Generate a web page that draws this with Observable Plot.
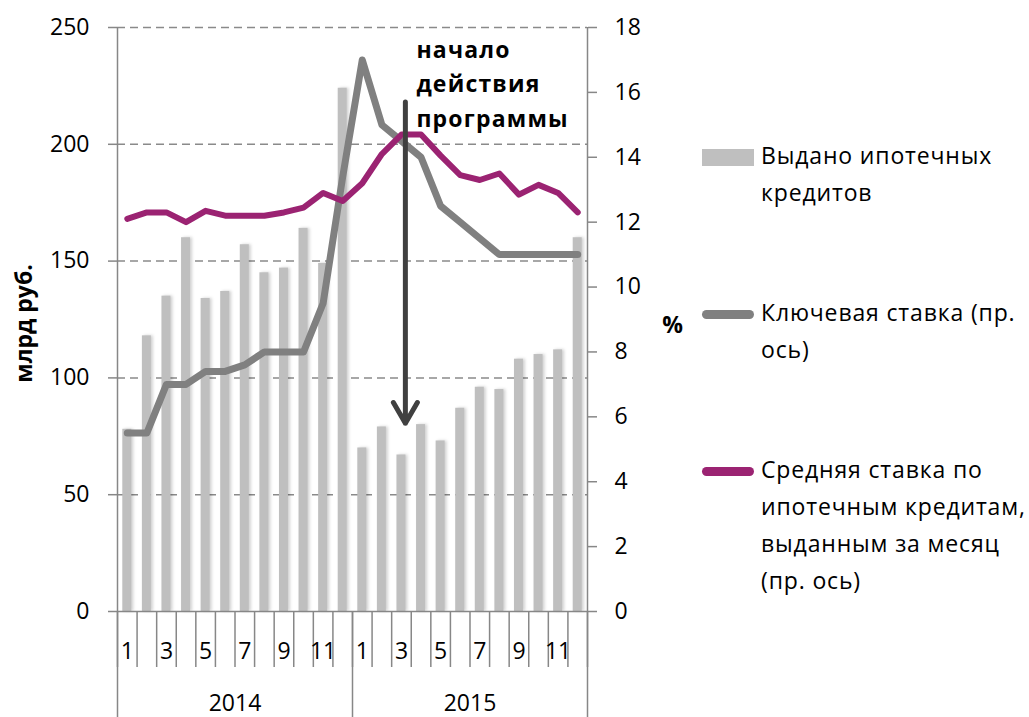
<!DOCTYPE html>
<html>
<head>
<meta charset="utf-8">
<script src="https://cdn.jsdelivr.net/npm/d3@7"></script>
<script src="https://cdn.jsdelivr.net/npm/@observablehq/plot@0.6"></script>
<style>
  body { margin: 0; background: #fff; font-family: "Open Sans", sans-serif; }
  #wrap { position: relative; width: 1029px; height: 717px; overflow: hidden; }
  #wrap svg { position: absolute; left: 0; top: 0; }
  .bars { filter: drop-shadow(2px 0px 1.5px rgba(0,0,0,0.18)); }
  .ann text { letter-spacing: 1.2px; }
  .lg { position: absolute; font-size: 23px; line-height: 37px; color: #000; white-space: nowrap; letter-spacing: 0.85px; }
  .sw { position: absolute; }
</style>
</head>
<body>
<div id="wrap"></div>
<script>
// ---- data ----
const years = ["2014", "2015"];
const monthNumbers = [1, 2, 3, 4, 5, 6, 7, 8, 9, 10, 11, 12];
// issued mortgage loans, bn RUB (left axis)
const issued2014 = [78, 118, 135, 160, 134, 137, 157, 145, 147, 164, 149, 224];
const issued2015 = [70, 79, 67, 80, 73, 87, 96, 95, 108, 110, 112, 160];
// key rate, % (right axis)
const keyRate2014 = [5.5, 5.5, 7.0, 7.0, 7.4, 7.4, 7.6, 8.0, 8.0, 8.0, 9.5, 13.4];
const keyRate2015 = [17.0, 15.0, 14.5, 14.0, 12.5, 12.0, 11.5, 11.0, 11.0, 11.0, 11.0, 11.0];
// average mortgage rate, % (right axis)
const mortRate2014 = [12.1, 12.3, 12.3, 12.0, 12.35, 12.2, 12.2, 12.2, 12.3, 12.45, 12.9, 12.65];
const mortRate2015 = [13.2, 14.1, 14.7, 14.7, 14.05, 13.45, 13.3, 13.5, 12.85, 13.15, 12.9, 12.3];

const leftTicks = [0, 50, 100, 150, 200, 250];
const rightTicks = [0, 2, 4, 6, 8, 10, 12, 14, 16, 18];
const leftTitle = "млрд руб.";
const rightTitle = "%";
const legendLabels = [
  ["Выдано ипотечных", "кредитов"],
  ["Ключевая ставка (пр.", "ось)"],
  ["Средняя ставка по", "ипотечным кредитам,", "выданным за месяц", "(пр. ось)"]
];
// annotation: month index position, values in % (right axis)
const annotation = { x: 14.7, top: 15.7, tip: 5.8, textTop: 17.82, label: "начало\nдействия\nпрограммы" };

// ---- build rows ----
const issuedByYear = [issued2014, issued2015];
const keyByYear = [keyRate2014, keyRate2015];
const mortByYear = [mortRate2014, mortRate2015];
const rows = [];
years.forEach((yr, yi) => monthNumbers.forEach((m, mi) => {
  const i = yi * 12 + mi;
  rows.push({ i, year: yr, month: m, issued: issuedByYear[yi][mi], key: keyByYear[yi][mi], mort: mortByYear[yi][mi] });
}));
const k = 250 / 18; // right axis -> left axis units

const colBars = "#bfbfbf", colKey = "#808080", colMort = "#9b2372", colAxis = "#878787";

const monthLabelRows = rows.filter(d => d.month % 2 === 1);
const boundaries = d3.range(rows.length + 1);
const yearBounds = years.map((y, yi) => yi * 12).concat([rows.length]);
const yearCenters = years.map((y, yi) => yi * 12 + 6);

const chart = Plot.plot({
  width: 1029, height: 717,
  marginLeft: 117, marginRight: 442, marginTop: 27, marginBottom: 106,
  style: { fontFamily: '"Open Sans", sans-serif', fontSize: "23px", color: "#000", background: "transparent", overflow: "visible" },
  x: { domain: [0, rows.length], axis: null },
  y: { domain: [0, 250], axis: null },
  marks: [
    Plot.ruleY(leftTicks.filter(v => v > 0), { stroke: "#8a8a8a", strokeWidth: 1.5, strokeDasharray: "8,5" }),
    Plot.rectY(rows, { x1: d => d.i, x2: d => d.i + 1, y: "issued", fill: colBars, insetLeft: 5.3, insetRight: 5.3, className: "bars" }),
    Plot.ruleX([0, rows.length], { stroke: colAxis, strokeWidth: 1.5 }),
    Plot.ruleY([0], { stroke: colAxis, strokeWidth: 1.5 }),
    Plot.axisY(leftTicks, { anchor: "left", tickSize: 9, tickPadding: 19, stroke: colAxis, strokeWidth: 1.5, fill: "#000", fontSize: 23, label: null }),
    Plot.axisY(rightTicks.map(v => v * k), { anchor: "right", tickFormat: d => String(Math.round(d / k)), tickSize: 9, tickPadding: 18, stroke: colAxis, strokeWidth: 1.5, fill: "#000", fontSize: 23, label: null }),
    Plot.axisX(boundaries, { tickSize: 56, tickFormat: () => "", stroke: colAxis, strokeWidth: 1.5, label: null }),
    Plot.axisX(yearBounds, { tickSize: 106, tickFormat: () => "", stroke: colAxis, strokeWidth: 1.5, label: null }),
    Plot.axisX(monthLabelRows.map(d => d.i + 0.5), { tickSize: 0, tickPadding: 31, tickFormat: v => String(rows[Math.floor(v)].month), fill: "#000", fontSize: 23, label: null }),
    Plot.axisX(yearCenters, { tickSize: 0, tickPadding: 83, tickFormat: v => years[Math.floor(v / 12)], fill: "#000", fontSize: 23, label: null }),
    Plot.line(rows, { x: d => d.i + 0.5, y: d => d.key * k, stroke: colKey, strokeWidth: 7, strokeLinejoin: "round", strokeLinecap: "round" }),
    Plot.line(rows, { x: d => d.i + 0.5, y: d => d.mort * k, stroke: colMort, strokeWidth: 6, strokeLinejoin: "round", strokeLinecap: "round" }),
    Plot.arrow([annotation], { x1: "x", x2: "x", y1: d => d.top * k, y2: d => d.tip * k, stroke: "#404040", strokeWidth: 5, headLength: 7.2 }),
    Plot.text([annotation], { x: "x", y: d => d.textTop * k, text: "label", textAnchor: "start", lineAnchor: "top", dx: 11, fontWeight: "bold", fontSize: 23, lineHeight: 1.5, fill: "#000", className: "ann" }),
    Plot.text([leftTitle], { frameAnchor: "left", dx: -93, dy: 4, rotate: -90, textAnchor: "middle", fontWeight: "bold", fontSize: 23, fill: "#000" }),
    Plot.text([rightTitle], { frameAnchor: "right", dx: 85, dy: 6, textAnchor: "middle", fontWeight: "bold", fontSize: 23, fill: "#000" })
  ]
});

const wrap = document.getElementById("wrap");
wrap.appendChild(chart);

// ---- legend (HTML overlay on the right) ----
const legendItems = [
  { labels: legendLabels[0], color: colBars, kind: "rect", cy: 157 },
  { labels: legendLabels[1], color: colKey, kind: "line", cy: 314 },
  { labels: legendLabels[2], color: colMort, kind: "line", cy: 471 }
];
legendItems.forEach(it => {
  const sw = document.createElement("div");
  sw.className = "sw";
  sw.style.left = "702px";
  sw.style.width = "52px";
  sw.style.background = it.color;
  if (it.kind === "rect") { sw.style.top = (it.cy - 8) + "px"; sw.style.height = "17px"; }
  else { sw.style.top = (it.cy - 4.5) + "px"; sw.style.height = "9px"; sw.style.borderRadius = "4.5px"; }
  wrap.appendChild(sw);
  const tx = document.createElement("div");
  tx.className = "lg";
  tx.style.left = "761px";
  tx.style.top = (it.cy - 20) + "px";
  tx.innerHTML = it.labels.join("<br>");
  wrap.appendChild(tx);
});
</script>
</body>
</html>
